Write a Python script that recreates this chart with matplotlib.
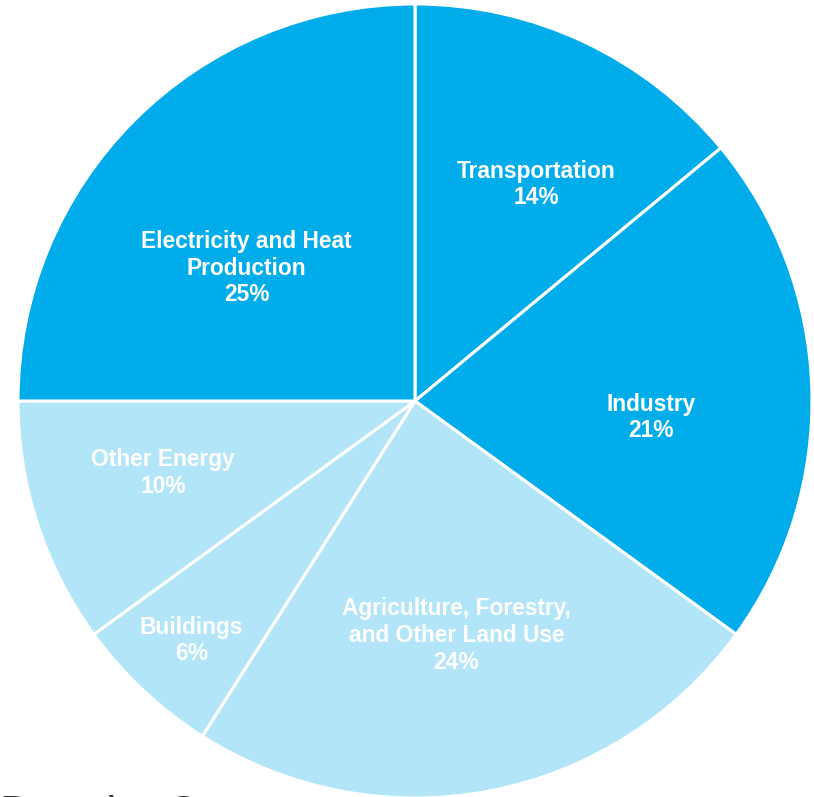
import matplotlib.pyplot as plt
import numpy as np

# Dados do gráfico (emissões por setor)
setores = ["Transportation", "Industry", "Agriculture, Forestry,\nand Other Land Use",
           "Buildings", "Other Energy", "Electricity and Heat\nProduction"]
percentuais = [14, 21, 24, 6, 10, 25]
cores = ["#00ACEA", "#00ACEA", "#B2E5F7", "#B2E5F7", "#B2E5F7", "#00ACEA"]

# posição dos rótulos (fração do raio, ângulo em graus)
pos_rotulos = [(0.625, 60.7), (0.595, -4.0), (0.60, -80.0),
               (0.825, -133.0), (0.66, -164.0), (0.54, 141.7)]

plt.rcParams['font.family'] = ['Liberation Sans', 'DejaVu Sans']

fig = plt.figure(figsize=(8.14, 7.97), dpi=100)
ax = fig.add_axes([0, 0, 1, 1])

raio = 397
ax.pie(percentuais, colors=cores, startangle=90, counterclock=False,
       radius=raio, center=(0, 0),
       wedgeprops=dict(edgecolor='white', linewidth=2.2))

for nome, pct, (fr, ang) in zip(setores, percentuais, pos_rotulos):
    x = fr * raio * np.cos(np.radians(ang))
    y = fr * raio * np.sin(np.radians(ang))
    ax.text(x, y, f"{nome}\n{pct}%", ha='center', va='center', color='white',
            fontsize=16.4, fontweight='bold', linespacing=1.2)

# título cortado na parte de baixo (só o topo aparece)
ax.text(-415, -394, "Data by Gas", ha='left', va='top', fontsize=32,
        color='#333333', clip_on=False)

ax.set_xlim(-415, 399)
ax.set_ylim(-396, 401)
ax.set_aspect('equal')
ax.axis('off')

plt.savefig('out.png', dpi=100)
